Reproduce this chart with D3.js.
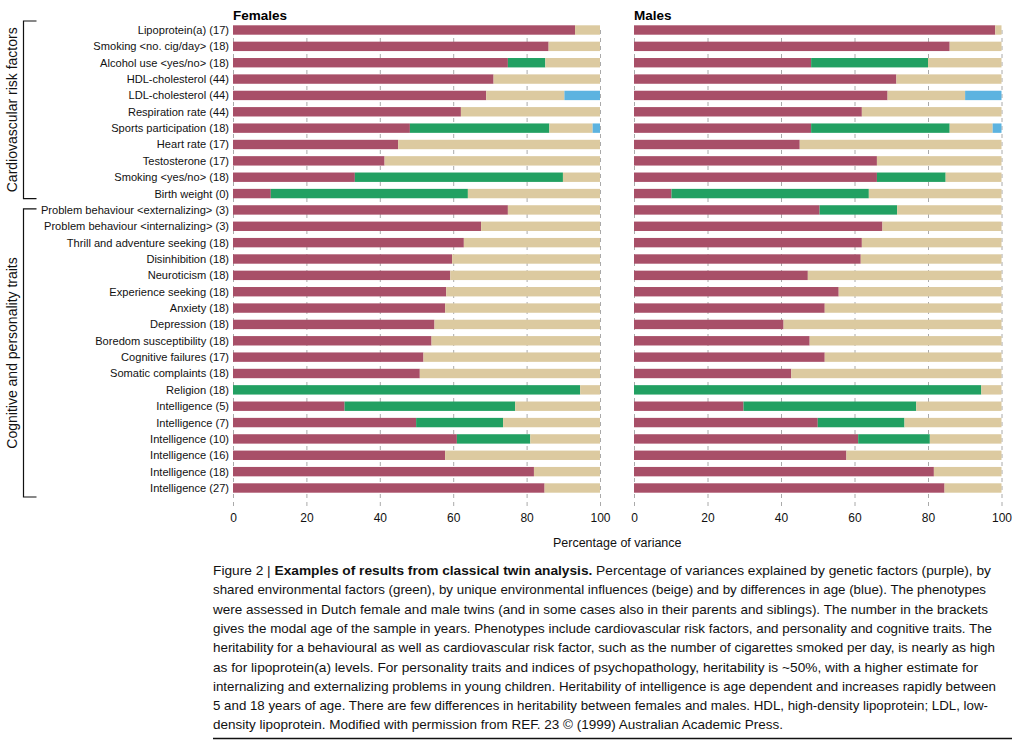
<!DOCTYPE html>
<html>
<head>
<meta charset="utf-8">
<script src="https://cdn.jsdelivr.net/npm/d3@7"></script>
<style>
  html, body { margin: 0; padding: 0; background: #fff; }
  svg { display: block; font-family: "Liberation Sans", Arial, sans-serif; }
</style>
</head>
<body>
<svg id="chart" width="1024" height="747"></svg>
<script>
// ---------- DATA ----------
const categories = [
  "Lipoprotein(a) (17)",
  "Smoking <no. cig/day> (18)",
  "Alcohol use <yes/no> (18)",
  "HDL-cholesterol (44)",
  "LDL-cholesterol (44)",
  "Respiration rate (44)",
  "Sports participation (18)",
  "Heart rate (17)",
  "Testosterone (17)",
  "Smoking <yes/no> (18)",
  "Birth weight (0)",
  "Problem behaviour <externalizing> (3)",
  "Problem behaviour <internalizing> (3)",
  "Thrill and adventure seeking (18)",
  "Disinhibition (18)",
  "Neuroticism (18)",
  "Experience seeking (18)",
  "Anxiety (18)",
  "Depression (18)",
  "Boredom susceptibility (18)",
  "Cognitive failures (17)",
  "Somatic complaints (18)",
  "Religion (18)",
  "Intelligence (5)",
  "Intelligence (7)",
  "Intelligence (10)",
  "Intelligence (16)",
  "Intelligence (18)",
  "Intelligence (27)"
];

const groupNames = ["Cardiovascular risk factors", "Cognitive and personality traits"];
const groupFirst = ["Lipoprotein(a) (17)", "Problem behaviour <externalizing> (3)"];
const groupLast = ["Birth weight (0)", "Intelligence (27)"];

const componentNames = ["genetic", "shared", "unique", "age"];

// Females
const femGenetic = [93.2, 86.0, 74.9, 71.0, 69.0, 62.1, 48.2, 45.0, 41.3, 33.2, 10.3, 74.9, 67.6, 62.9, 59.7, 59.2, 58.1, 57.8, 54.9, 54.1, 51.9, 50.9, 0, 30.4, 49.9, 61.0, 57.8, 82.0, 84.9];
const femShared  = [0, 0, 10.2, 0, 0, 0, 38.0, 0, 0, 56.7, 53.7, 0, 0, 0, 0, 0, 0, 0, 0, 0, 0, 0, 94.6, 46.5, 23.7, 20.0, 0, 0, 0];
const femUnique  = [6.8, 14.0, 14.9, 29.0, 21.3, 37.9, 11.8, 55.0, 58.7, 10.1, 36.0, 25.1, 32.4, 37.1, 40.3, 40.8, 41.9, 42.2, 45.1, 45.9, 48.1, 49.1, 5.4, 23.1, 26.4, 19.0, 42.2, 18.0, 15.1];
const femAge     = [0, 0, 0, 0, 9.7, 0, 2.0, 0, 0, 0, 0, 0, 0, 0, 0, 0, 0, 0, 0, 0, 0, 0, 0, 0, 0, 0, 0, 0, 0];

// Males
const maleGenetic = [98.3, 85.9, 48.2, 71.4, 69.0, 62.0, 48.2, 45.1, 66.1, 66.1, 10.2, 50.5, 67.6, 62.0, 61.7, 47.3, 55.7, 51.9, 40.7, 47.8, 51.9, 42.8, 0, 29.8, 50.0, 61.0, 57.8, 81.6, 84.5];
const maleShared  = [0, 0, 31.8, 0, 0, 0, 37.7, 0, 0, 18.7, 53.7, 21.1, 0, 0, 0, 0, 0, 0, 0, 0, 0, 0, 94.5, 47.0, 23.6, 19.5, 0, 0, 0];
const maleUnique  = [1.7, 14.1, 20.0, 28.6, 21.1, 38.0, 11.7, 54.9, 33.9, 15.2, 36.1, 28.4, 32.4, 38.0, 38.3, 52.7, 44.3, 48.1, 59.3, 52.2, 48.1, 57.2, 5.5, 23.2, 26.4, 19.5, 42.2, 18.4, 15.5];
const maleAge     = [0, 0, 0, 0, 9.9, 0, 2.4, 0, 0, 0, 0, 0, 0, 0, 0, 0, 0, 0, 0, 0, 0, 0, 0, 0, 0, 0, 0, 0, 0];

const tickValues = [0, 20, 40, 60, 80, 100];
const panelTitles = ["Females", "Males"];
const axisTitle = "Percentage of variance";

const captionLines = [
  [["Figure 2 | ", false], ["Examples of results from classical twin analysis.", true], [" Percentage of variances explained by genetic factors (purple), by", false]],
  [["shared environmental factors (green), by unique environmental influences (beige) and by differences in age (blue). The phenotypes", false]],
  [["were assessed in Dutch female and male twins (and in some cases also in their parents and siblings). The number in the brackets", false]],
  [["gives the modal age of the sample in years. Phenotypes include cardiovascular risk factors, and personality and cognitive traits. The", false]],
  [["heritability for a behavioural as well as cardiovascular risk factor, such as the number of cigarettes smoked per day, is nearly as high", false]],
  [["as for lipoprotein(a) levels. For personality traits and indices of psychopathology, heritability is ~50%, with a higher estimate for", false]],
  [["internalizing and externalizing problems in young children. Heritability of intelligence is age dependent and increases rapidly between", false]],
  [["5 and 18 years of age. There are few differences in heritability between females and males. HDL, high-density lipoprotein; LDL, low-", false]],
  [["density lipoprotein. Modified with permission from REF. 23 \u00A9 (1999) Australian Academic Press.", false]]
];
const captionLineEnds = [991, 986, 988, 992, 995, 978, 996, 988, 783];

// ---------- STYLE ----------
const colors = { genetic: "#a84f68", shared: "#22a062", unique: "#dccaa0", age: "#5cb3e0" };

const svg = d3.select("#chart");

const y = d3.scalePoint().domain(categories).range([30, 488]);
const barH = 9.4;

const xF = d3.scaleLinear().domain([0, 100]).range([233, 600]);
const xM = d3.scaleLinear().domain([0, 100]).range([634, 1001.5]);

function buildStack(gen, sh, un, ag) {
  return categories.map((c, i) => ({ cat: c, genetic: gen[i], shared: sh[i], unique: un[i], age: ag[i] }));
}
const panels = [
  { title: panelTitles[0], x: xF, rows: buildStack(femGenetic, femShared, femUnique, femAge) },
  { title: panelTitles[1], x: xM, rows: buildStack(maleGenetic, maleShared, maleUnique, maleAge) }
];

const stack = d3.stack().keys(componentNames);

panels.forEach(p => {
  const g = svg.append("g");
  // grid + ticks
  const axisG = g.append("g")
    .attr("transform", "translate(0,506)")
    .call(d3.axisBottom(p.x).tickValues(tickValues).tickSize(-478).tickPadding(7).tickFormat(d3.format("d")));
  axisG.select(".domain").remove();
  axisG.selectAll(".tick line").attr("stroke", "#aaa").attr("stroke-width", 1).attr("stroke-dasharray", "4,4");
  axisG.selectAll(".tick text").attr("font-size", 12).attr("fill", "#111").attr("font-family", "Liberation Sans, Arial, sans-serif");

  const series = stack(p.rows);
  g.selectAll("g.series").data(series).join("g")
    .attr("class", "series")
    .attr("fill", d => colors[d.key])
    .selectAll("rect").data(d => d).join("rect")
      .attr("x", d => p.x(d[0]))
      .attr("width", d => Math.max(0, p.x(d[1]) - p.x(d[0])))
      .attr("y", d => y(d.data.cat) - barH / 2)
      .attr("height", barH);

  g.append("text")
    .attr("x", p.x(0))
    .attr("y", 20)
    .attr("font-size", 13.5)
    .attr("font-weight", "bold")
    .attr("fill", "#000")
    .text(p.title);
});

// axis title
svg.append("text")
  .attr("x", (xF(0) + xM(100)) / 2)
  .attr("y", 547)
  .attr("text-anchor", "middle")
  .attr("font-size", 12.5)
  .attr("fill", "#111")
  .text(axisTitle);

// category labels
svg.append("g").selectAll("text").data(categories).join("text")
  .attr("x", 229)
  .attr("y", d => y(d))
  .attr("dy", "0.36em")
  .attr("text-anchor", "end")
  .attr("font-size", 11.1)
  .attr("fill", "#111")
  .text(d => d);

// group brackets
groupNames.forEach((name, i) => {
  const top = y(groupFirst[i]) - (i === 0 ? 9 : 1);
  const bot = y(groupLast[i]) + (i === 0 ? 5 : 9);
  const bx = 23.5;
  svg.append("path")
    .attr("d", `M${bx + 13},${top} H${bx} V${bot} H${bx + 13}`)
    .attr("fill", "none")
    .attr("stroke", "#111")
    .attr("stroke-width", 1.2);
  const cy = (top + bot) / 2;
  svg.append("text")
    .attr("transform", `translate(17,${cy}) rotate(-90)`)
    .attr("text-anchor", "middle")
    .attr("font-size", 14)
    .attr("fill", "#111")
    .text(name);
});

// caption
const capG = svg.append("g").attr("font-size", 13.5).attr("fill", "#111");
captionLines.forEach((parts, i) => {
  const t = capG.append("text")
    .attr("x", 213)
    .attr("y", 575 + i * 19.3);
  parts.forEach(([s, b]) => {
    t.append("tspan").attr("font-weight", b ? "bold" : "normal").text(s);
  });
  t.attr("textLength", captionLineEnds[i] - 213).attr("lengthAdjust", "spacingAndGlyphs");
});
svg.append("line")
  .attr("x1", 213).attr("x2", 1012)
  .attr("y1", 738.5).attr("y2", 738.5)
  .attr("stroke", "#111").attr("stroke-width", 1.5);
</script>
</body>
</html>
